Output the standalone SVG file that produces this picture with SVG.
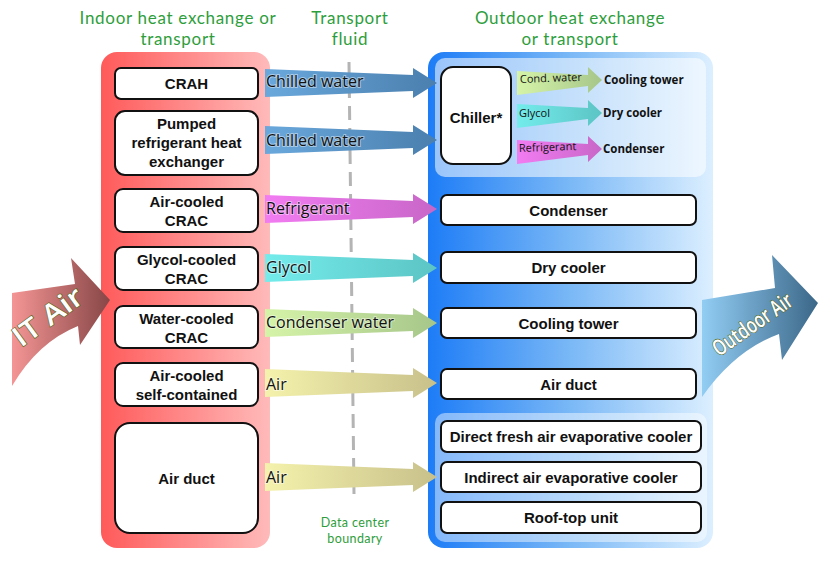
<svg xmlns="http://www.w3.org/2000/svg" xmlns:xlink="http://www.w3.org/1999/xlink" width="825" height="563" viewBox="0 0 825 563">
<style>
.hdr{font-family:Lato,"Open Sans",sans-serif;font-size:17px;letter-spacing:0.7px;fill:#2e9e3c;text-anchor:middle}
.small{font-size:12.5px;letter-spacing:0.4px}
.box{fill:#fff;stroke:#111;stroke-width:2}
.bt{font-family:"Liberation Sans",Arial,sans-serif;font-weight:bold;font-size:15px;fill:#111;text-anchor:middle}
.al{font-family:"Open Sans","Liberation Sans",sans-serif;font-size:16px;fill:#111;paint-order:stroke;stroke:#fff;stroke-opacity:0.45;stroke-width:2}
.sl{font-family:"Open Sans","Liberation Sans",sans-serif;font-size:11px;fill:#111}
.sr{font-family:"Open Sans","Liberation Sans",sans-serif;font-weight:bold;font-size:11.5px;fill:#111}
.big{font-family:"Open Sans","Liberation Sans",sans-serif;font-weight:600;font-size:28px;fill:#ffffff;stroke:#55661a;stroke-width:1.2;paint-order:stroke}
</style>
<defs>
<linearGradient id="gRed" x1="0" y1="0" x2="1" y2="0"><stop offset="0" stop-color="#ff5a5a"/><stop offset="1" stop-color="#ffbaba"/></linearGradient>
<linearGradient id="gBlue" x1="0" y1="0" x2="1" y2="0"><stop offset="0" stop-color="#1d7cf6"/><stop offset="0.5" stop-color="#7ab8f6"/><stop offset="1" stop-color="#dcefff"/></linearGradient>
<linearGradient id="gCW" x1="0" y1="0" x2="1" y2="0"><stop offset="0" stop-color="#6aa8dc"/><stop offset="1" stop-color="#4a7fae"/></linearGradient>
<linearGradient id="gRef" x1="0" y1="0" x2="1" y2="0"><stop offset="0" stop-color="#f27cf2"/><stop offset="1" stop-color="#c866c8"/></linearGradient>
<linearGradient id="gGly" x1="0" y1="0" x2="1" y2="0"><stop offset="0" stop-color="#74ecec"/><stop offset="1" stop-color="#5cc4c4"/></linearGradient>
<linearGradient id="gCon" x1="0" y1="0" x2="1" y2="0"><stop offset="0" stop-color="#d6f4a8"/><stop offset="1" stop-color="#a6c68a"/></linearGradient>
<linearGradient id="gAir" x1="0" y1="0" x2="1" y2="0"><stop offset="0" stop-color="#f4f2ac"/><stop offset="1" stop-color="#c8c08a"/></linearGradient>
<linearGradient id="gIT" x1="0" y1="0" x2="1" y2="0"><stop offset="0" stop-color="#f59595"/><stop offset="1" stop-color="#874646"/></linearGradient>
<linearGradient id="gOut" x1="0" y1="0" x2="1" y2="0"><stop offset="0" stop-color="#92cdf4"/><stop offset="1" stop-color="#3b6788"/></linearGradient>
<path id="bigArrow" d="M265,-14 L413,-8 L413,-15 L437,0 L413,15 L413,8 L265,14 Z"/>
<path id="smArrow" d="M517,-9 L588,-5 L588,-13 L602,0 L588,13 L588,6 L517,15 Z"/>
</defs>
<rect width="825" height="563" fill="#fff"/>

<!-- headers -->
<g id="headers">
<text class="hdr" x="178" y="24">Indoor heat exchange or</text>
<text class="hdr" x="178" y="45">transport</text>
<text class="hdr" x="350" y="24">Transport</text>
<text class="hdr" x="350" y="45">fluid</text>
<text class="hdr" x="570" y="24">Outdoor heat exchange</text>
<text class="hdr" x="570" y="45">or transport</text>
<text class="hdr small" x="355" y="527">Data center</text>
<text class="hdr small" x="355" y="543">boundary</text>
</g>

<!-- panels -->
<g id="indoor-panel"><rect x="101" y="52" width="169" height="496" rx="16" fill="url(#gRed)"/></g>
<g id="outdoor-panel">
<rect x="428" y="52" width="285" height="496" rx="16" fill="url(#gBlue)"/>
<rect x="435" y="58" width="271" height="119" rx="10" fill="#fff" fill-opacity="0.55"/>
<rect x="435" y="413" width="272" height="129" rx="10" fill="#fff" fill-opacity="0.45"/>
</g>

<!-- boundary -->
<line id="boundary" x1="349" y1="62" x2="354" y2="494" stroke="#b4b4b4" stroke-width="3" stroke-dasharray="14 8"/>

<!-- connectors -->
<g id="connectors">
<use href="#bigArrow" y="83" fill="url(#gCW)"/>
<use href="#bigArrow" y="140" fill="url(#gCW)"/>
<use href="#bigArrow" y="209" fill="url(#gRef)"/>
<use href="#bigArrow" y="268" fill="url(#gGly)"/>
<use href="#bigArrow" y="323" fill="url(#gCon)"/>
<use href="#bigArrow" y="383" fill="url(#gAir)"/>
<use href="#bigArrow" y="477" fill="url(#gAir)"/>
<text class="al" x="266" y="87">Chilled water</text>
<text class="al" x="266" y="146">Chilled water</text>
<text class="al" x="266" y="214">Refrigerant</text>
<text class="al" x="266" y="273">Glycol</text>
<text class="al" x="266" y="328">Condenser water</text>
<text class="al" x="266" y="390">Air</text>
<text class="al" x="266" y="483">Air</text>
<use href="#smArrow" y="80" fill="url(#gCon)"/>
<use href="#smArrow" y="113" fill="url(#gGly)"/>
<use href="#smArrow" y="149" fill="url(#gRef)"/>
<text class="sl" x="520" y="83" transform="rotate(-2 520 83)">Cond. water</text>
<text class="sl" x="519" y="117">Glycol</text>
<text class="sl" x="519" y="152" transform="rotate(-2 519 152)">Refrigerant</text>
<text class="sr" x="604" y="84">Cooling tower</text>
<text class="sr" x="603" y="117">Dry cooler</text>
<text class="sr" x="603" y="153">Condenser</text>
</g>

<!-- big air arrows -->
<g id="it-air">
<path d="M12,293 L75,284 L71,258 L110,300 L80,345 L78,326 Q38,342 12,386 Z" fill="url(#gIT)"/>
<text class="big" x="0" y="0" transform="translate(21,348) rotate(-36)" textLength="80" lengthAdjust="spacingAndGlyphs">IT Air</text>
</g>
<g id="outdoor-air">
<path d="M702,300 L775,288 L772,255 L818,303 L782,360 L779,334 Q735,350 702,397 Z" fill="url(#gOut)"/>
<text class="big" x="0" y="0" transform="translate(719,357) rotate(-35)" textLength="92" lengthAdjust="spacingAndGlyphs" style="font-size:22px">Outdoor Air</text>
</g>

<!-- indoor nodes -->
<g id="crah"><rect class="box" x="115" y="68" width="143" height="31" rx="6"/><text class="bt" x="186.5" y="89">CRAH</text></g>
<g id="pumped"><rect class="box" x="115" y="111" width="143" height="64" rx="10"/><text class="bt" x="186.5" y="129">Pumped</text><text class="bt" x="186.5" y="148">refrigerant heat</text><text class="bt" x="186.5" y="167">exchanger</text></g>
<g id="air-cooled-crac"><rect class="box" x="115" y="189" width="143" height="43" rx="8"/><text class="bt" x="186.5" y="207">Air-cooled</text><text class="bt" x="186.5" y="226">CRAC</text></g>
<g id="glycol-cooled-crac"><rect class="box" x="115" y="247" width="143" height="43" rx="8"/><text class="bt" x="186.5" y="265">Glycol-cooled</text><text class="bt" x="186.5" y="284">CRAC</text></g>
<g id="water-cooled-crac"><rect class="box" x="115" y="306" width="143" height="42" rx="8"/><text class="bt" x="186.5" y="323.5">Water-cooled</text><text class="bt" x="186.5" y="342.5">CRAC</text></g>
<g id="air-cooled-sc"><rect class="box" x="115" y="363" width="143" height="43" rx="8"/><text class="bt" x="186.5" y="381">Air-cooled</text><text class="bt" x="186.5" y="400">self-contained</text></g>
<g id="air-duct-in"><rect class="box" x="115" y="423" width="143" height="110" rx="15"/><text class="bt" x="186.5" y="484">Air duct</text></g>

<!-- outdoor nodes -->
<g id="chiller"><rect class="box" x="441" y="67" width="70" height="97" rx="12"/><text class="bt" x="476" y="123">Chiller*</text></g>
<g id="condenser"><rect class="box" x="441" y="195" width="255" height="30" rx="6"/><text class="bt" x="568.5" y="215.5">Condenser</text></g>
<g id="dry-cooler"><rect class="box" x="441" y="252" width="255" height="31" rx="6"/><text class="bt" x="568.5" y="273">Dry cooler</text></g>
<g id="cooling-tower"><rect class="box" x="441" y="308" width="255" height="30" rx="6"/><text class="bt" x="568.5" y="328.5">Cooling tower</text></g>
<g id="air-duct-out"><rect class="box" x="441" y="369" width="255" height="30" rx="6"/><text class="bt" x="568.5" y="389.5">Air duct</text></g>
<g id="direct-evap"><rect class="box" x="441" y="421" width="260" height="31" rx="6"/><text class="bt" x="571" y="442">Direct fresh air evaporative cooler</text></g>
<g id="indirect-evap"><rect class="box" x="441" y="462" width="260" height="30" rx="6"/><text class="bt" x="571" y="482.5">Indirect air evaporative cooler</text></g>
<g id="rooftop"><rect class="box" x="441" y="502" width="260" height="31" rx="6"/><text class="bt" x="571" y="523">Roof-top unit</text></g>
</svg>
